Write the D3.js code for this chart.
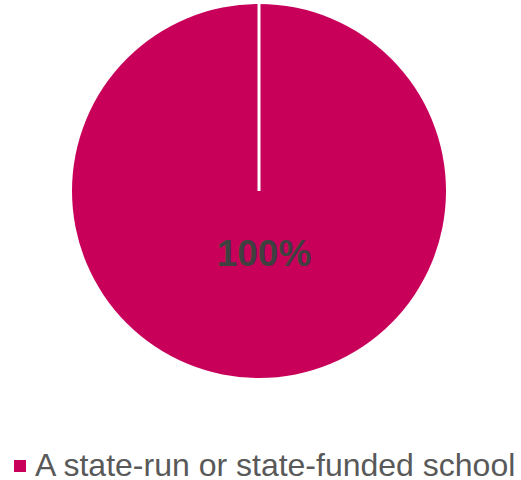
<html>
<head>
  <script src="https://d3js.org/d3.v7.min.js"></script>
  <style>
    body { margin: 0; background: #fff; }
  </style>
</head>
<body>
  <svg id="chart" width="521" height="480"></svg>
  <script>
    // data
    const categories = ["A state-run or state-funded school"];
    const values = [100];
    const colors = ["#C8005A"];

    const svg = d3.select("#chart");
    const cx = 259, cy = 191, radius = 187;
    const font = "'Liberation Sans', Arial, sans-serif";

    const pie = d3.pie().sort(null).value(d => d);
    const arc = d3.arc().innerRadius(0).outerRadius(radius);

    const g = svg.append("g").attr("transform", `translate(${cx},${cy})`);

    g.selectAll("path.slice").data(pie(values))
      .join("path")
      .attr("class", "slice")
      .attr("d", arc)
      .attr("fill", (d, i) => colors[i]);

    // white slice border at the start angle
    g.selectAll("line.border").data(pie(values))
      .join("line")
      .attr("class", "border")
      .attr("x1", 0).attr("y1", 0)
      .attr("x2", d => radius * Math.sin(d.startAngle))
      .attr("y2", d => -radius * Math.cos(d.startAngle))
      .attr("stroke", "#fff")
      .attr("stroke-width", 3);

    g.selectAll("text.label").data(pie(values))
      .join("text")
      .attr("class", "label")
      .attr("x", 5)
      .attr("y", 75)
      .attr("text-anchor", "middle")
      .style("font-family", font)
      .attr("font-weight", "bold")
      .attr("font-size", 37)
      .attr("fill", "#404040")
      .text(d => d.data + "%");

    // legend
    const legend = svg.append("g").attr("transform", "translate(14,460)");
    legend.selectAll("rect").data(categories)
      .join("rect")
      .attr("x", 0).attr("y", 0)
      .attr("width", 12).attr("height", 12)
      .attr("fill", (d, i) => colors[i]);
    legend.selectAll("text").data(categories)
      .join("text")
      .attr("x", 21)
      .attr("y", 15.5)
      .style("font-family", font)
      .attr("font-size", 32)
      .attr("fill", "#595959")
      .text(d => d);
  </script>
</body>
</html>
